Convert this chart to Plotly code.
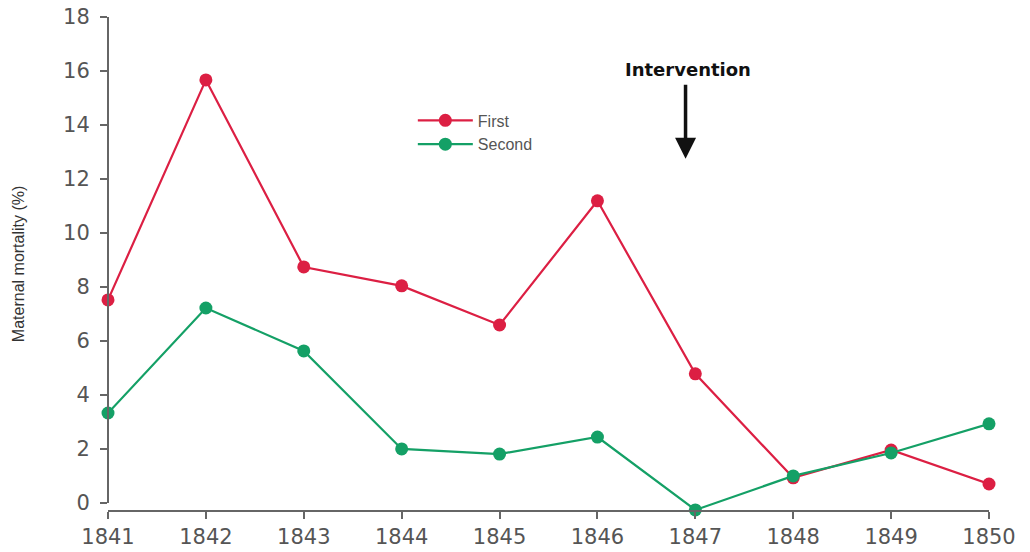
import plotly.graph_objects as go

years = [1841, 1842, 1843, 1844, 1845, 1846, 1847, 1848, 1849, 1850]
first = [7.52, 15.67, 8.74, 8.04, 6.59, 11.19, 4.78, 0.93, 1.96, 0.70]
second = [3.33, 7.22, 5.63, 2.00, 1.81, 2.44, -0.26, 1.00, 1.85, 2.93]
y_ticks = [0, 2, 4, 6, 8, 10, 12, 14, 16, 18]

red = "#dc1f43"
green = "#14a066"
grey = "#555555"

fig = go.Figure()
fig.add_trace(go.Scatter(x=years, y=first, name="First", mode="lines+markers",
                         line=dict(color=red, width=2.2),
                         marker=dict(color=red, size=13), cliponaxis=False))
fig.add_trace(go.Scatter(x=years, y=second, name="Second", mode="lines+markers",
                         line=dict(color=green, width=2.2),
                         marker=dict(color=green, size=13), cliponaxis=False))

# axis lines (offset like the reference)
fig.add_shape(type="line", xref="x domain", yref="y", x0=0, x1=0, y0=0, y1=18,
              line=dict(color="#666666", width=2))
fig.add_shape(type="line", xref="x", yref="y domain", x0=1841, x1=1850, y0=0, y1=0,
              line=dict(color="#666666", width=2))

fig.add_annotation(x=1846.9, y=12.75, ax=1846.9, ay=15.55, axref="x", ayref="y",
                   xref="x", yref="y", text="", showarrow=True,
                   arrowhead=2, arrowsize=1.2, arrowwidth=3.5, arrowcolor="#111111")
fig.add_annotation(x=1846.93, y=16.05, xref="x", yref="y", text="<b>Intervention</b>",
                   showarrow=False, font=dict(family="DejaVu Sans", size=18, color="#111111"))

fig.add_annotation(x=-0.102, y=0.5, xref="paper", yref="paper", text="Maternal mortality (%)",
                   textangle=-90, showarrow=False, xanchor="center", yanchor="middle",
                   font=dict(family="Liberation Sans", size=16, color="#333333"))

fig.update_layout(
    width=1030, height=552,
    margin=dict(l=108, r=41, t=17, b=41),
    paper_bgcolor="white", plot_bgcolor="white",
    showlegend=True,
    legend=dict(x=0.346, y=0.825, xanchor="left", yanchor="top",
                bgcolor="rgba(0,0,0,0)", font=dict(family="Liberation Sans", size=16, color=grey),
                itemwidth=55, tracegroupgap=0),
    xaxis=dict(range=[1841, 1850], tickmode="array", tickvals=years, automargin=False,
               ticktext=[str(y) for y in years], showgrid=False, zeroline=False,
               showline=False, ticks="outside", ticklen=7, tickwidth=2, tickcolor="#666666",
               tickfont=dict(family="DejaVu Sans", size=21, color=grey)),
    yaxis=dict(range=[-0.3, 18], tickmode="array", tickvals=y_ticks, automargin=False,
               showgrid=False, zeroline=False, showline=False,
               ticks="outside", ticklen=7, tickwidth=2, tickcolor="#666666",
               ticklabelstandoff=6,
               tickfont=dict(family="DejaVu Sans", size=21, color=grey)),
)

fig.write_html("out.html", config={"displayModeBar": False},
               post_script="document.body.style.margin='0';")
